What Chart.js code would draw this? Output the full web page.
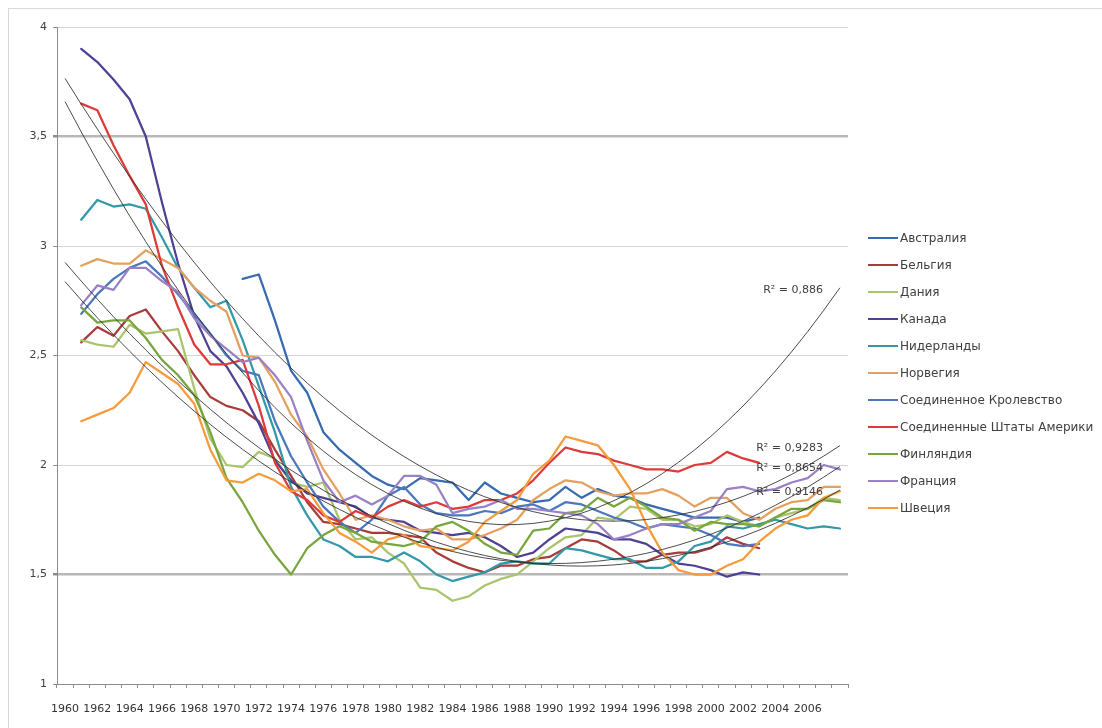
<!DOCTYPE html>
<html>
<head>
<meta charset="utf-8">
<script src="https://cdn.jsdelivr.net/npm/chart.js@4.4.0/dist/chart.umd.min.js"></script>
<style>
html, body { margin: 0; padding: 0; background: #fff; width: 1102px; height: 728px; overflow: hidden; }
#frame { position: absolute; left: 8px; top: 8px; width: 1200px; height: 800px; border: 1px solid #d9d9d9; }
#wrap { position: absolute; left: 0; top: 0; width: 1102px; height: 728px; }
#legend { position: absolute; left: 868px; top: 0; font: 12px "DejaVu Sans", sans-serif; color: #404040; }
.item { position: absolute; left: 0; height: 14px; line-height: 14px; white-space: nowrap; }
.swatch { position: absolute; left: 0; top: 6px; width: 30px; height: 2px; }
.label { position: absolute; left: 32px; top: 0; }
</style>
</head>
<body>
<div id="frame"></div>
<div id="wrap"><canvas id="chart" width="1102" height="728"></canvas></div>
<div id="legend"></div>
<script>
// Total fertility rate, 1960-2008 (first category is empty in the source sheet)
const years = ['1960','1961','1962','1963','1964','1965','1966','1967','1968','1969',
  '1970','1971','1972','1973','1974','1975','1976','1977','1978','1979',
  '1980','1981','1982','1983','1984','1985','1986','1987','1988','1989',
  '1990','1991','1992','1993','1994','1995','1996','1997','1998','1999',
  '2000','2001','2002','2003','2004','2005','2006','2007','2008'];

const australia = [null,null,null,null,null,null,null,null,null,null,null,
  2.85,2.87,2.66,2.43,2.33,2.15,2.07,2.01,1.95,1.91,
  1.89,1.94,1.93,1.92,1.84,1.92,1.87,1.85,1.83,1.84,
  1.90,1.85,1.89,1.86,1.85,1.82,1.80,1.78,1.76,1.76,
  1.76,1.74,1.76, null,null,null,null,null];
const belgium = [null, 2.56,2.63,2.59,2.68,2.71,2.61,2.52,2.41,2.31,2.27,
  2.25,2.20,2.07,1.95,1.83,1.74,1.73,1.71,1.69,1.69,
  1.68,1.67,1.60,1.56,1.53,1.51,1.54,1.54,1.57,1.58,
  1.62,1.66,1.65,1.61,1.56,1.56,1.59,1.60,1.60,1.62,
  1.67,1.64,1.62, null,null,null,null,null];
const denmark = [null, 2.57,2.55,2.54,2.64,2.60,2.61,2.62,2.35,2.12,2.00,
  1.99,2.06,2.03,1.92,1.90,1.92,1.75,1.66,1.67,1.60,
  1.55,1.44,1.43,1.38,1.40,1.45,1.48,1.50,1.56,1.62,
  1.67,1.68,1.76,1.75,1.81,1.80,1.75,1.75,1.72,1.73,
  1.77,1.74,1.72,1.76,1.78,1.80,1.85,1.84];
const canada = [null, 3.90,3.84,3.76,3.67,3.50,3.20,2.92,2.68,2.52,2.45,
  2.33,2.19,2.02,1.93,1.87,1.85,1.83,1.81,1.76,1.75,
  1.74,1.70,1.69,1.68,1.69,1.67,1.63,1.58,1.60,1.66,
  1.71,1.70,1.69,1.66,1.66,1.64,1.59,1.55,1.54,1.52,
  1.49,1.51,1.50, null,null,null,null,null];
const netherlands = [null, 3.12,3.21,3.18,3.19,3.17,3.04,2.90,2.81,2.72,2.75,
  2.57,2.36,2.15,1.90,1.77,1.66,1.63,1.58,1.58,1.56,
  1.60,1.56,1.50,1.47,1.49,1.51,1.55,1.56,1.55,1.55,
  1.62,1.61,1.59,1.57,1.57,1.53,1.53,1.56,1.63,1.65,
  1.72,1.71,1.73,1.75,1.73,1.71,1.72,1.71];
const norway = [null, 2.91,2.94,2.92,2.92,2.98,2.94,2.90,2.81,2.75,2.70,
  2.50,2.49,2.38,2.23,2.13,1.98,1.87,1.75,1.77,1.75,
  1.72,1.70,1.71,1.66,1.66,1.68,1.71,1.75,1.84,1.89,
  1.93,1.92,1.88,1.86,1.87,1.87,1.89,1.86,1.81,1.85,
  1.85,1.78,1.75,1.80,1.83,1.84,1.90,1.90];
const uk = [null, 2.69,2.78,2.85,2.90,2.93,2.86,2.78,2.69,2.60,2.50,
  2.43,2.41,2.20,2.04,1.92,1.81,1.74,1.69,1.75,1.86,
  1.90,1.82,1.78,1.77,1.77,1.79,1.78,1.81,1.82,1.79,
  1.83,1.82,1.79,1.76,1.74,1.71,1.73,1.72,1.71,1.68,
  1.64,1.63,1.64, null,null,null,null,null];
const usa = [null, 3.65,3.62,3.46,3.32,3.19,2.91,2.72,2.55,2.46,2.46,
  2.48,2.27,2.01,1.88,1.84,1.77,1.74,1.79,1.76,1.81,
  1.84,1.81,1.83,1.80,1.81,1.84,1.84,1.87,1.93,2.01,
  2.08,2.06,2.05,2.02,2.00,1.98,1.98,1.97,2.00,2.01,
  2.06,2.03,2.01, null,null,null,null,null];
const finland = [null, 2.72,2.65,2.66,2.66,2.58,2.48,2.41,2.32,2.15,1.94,
  1.83,1.70,1.59,1.50,1.62,1.68,1.72,1.69,1.65,1.64,
  1.63,1.65,1.72,1.74,1.70,1.64,1.60,1.59,1.70,1.71,
  1.78,1.79,1.85,1.81,1.85,1.81,1.76,1.75,1.70,1.74,
  1.73,1.73,1.72,1.76,1.80,1.80,1.84,1.83];
const france = [null, 2.73,2.82,2.80,2.90,2.90,2.84,2.79,2.67,2.59,2.53,
  2.47,2.49,2.41,2.31,2.11,1.93,1.83,1.86,1.82,1.86,
  1.95,1.95,1.91,1.78,1.80,1.81,1.84,1.80,1.80,1.79,
  1.78,1.77,1.73,1.66,1.68,1.71,1.73,1.73,1.76,1.79,
  1.89,1.90,1.88,1.89,1.92,1.94,2.00,1.98];
const sweden = [null, 2.20,2.23,2.26,2.33,2.47,2.42,2.37,2.28,2.07,1.93,
  1.92,1.96,1.93,1.88,1.89,1.78,1.69,1.65,1.60,1.66,
  1.68,1.63,1.62,1.61,1.65,1.74,1.79,1.84,1.96,2.02,
  2.13,2.11,2.09,2.00,1.89,1.73,1.60,1.52,1.50,1.50,
  1.54,1.57,1.65,1.71,1.75,1.77,1.85,1.88];

const names = ['Австралия','Бельгия','Дания','Канада','Нидерланды','Норвегия',
  'Соединенное Кролевство','Соединенные Штаты Америки','Финляндия','Франция','Швеция'];
const series = [australia, belgium, denmark, canada, netherlands, norway, uk, usa, finland, france, sweden];
const colors = ['#376ab0','#a83c3a','#a9c46c','#4e4193','#3399a8','#e4a05e',
  '#4a78bd','#dd3a3a','#78a53c','#9a80c4','#f59b3c'];

// polynomial (order 2) trendlines: which series, and the R² text printed on the chart
const trendOf = [7, 0, 2, 1];   // США, Австралия, Дания, Бельгия
const r2Text = ['R² = 0,886', 'R² = 0,9283', 'R² = 0,8654', 'R² = 0,9146'];

// least squares y = a + b*x + c*x^2 over non-empty points, x = category index
function quadFit(ys) {
  const S = [0, 0, 0, 0, 0], T = [0, 0, 0];
  ys.forEach((y, x) => {
    if (y === null) return;
    let p = 1;
    for (let k = 0; k < 5; k++) {
      S[k] += p;
      if (k < 3) T[k] += p * y;
      p *= x;
    }
  });
  const m = [[S[0], S[1], S[2], T[0]], [S[1], S[2], S[3], T[1]], [S[2], S[3], S[4], T[2]]];
  for (let i = 0; i < 3; i++) {
    for (let j = i + 1; j < 3; j++) {
      const f = m[j][i] / m[i][i];
      for (let k = i; k < 4; k++) m[j][k] -= f * m[i][k];
    }
  }
  const c = m[2][3] / m[2][2];
  const b = (m[1][3] - m[1][2] * c) / m[1][1];
  const a = (m[0][3] - m[0][1] * b - m[0][2] * c) / m[0][0];
  return years.map((_, x) => a + b * x + c * x * x);
}

const datasets = series.map((data, i) => ({
  label: names[i],
  data: data,
  borderColor: colors[i],
  borderWidth: 2.25,
  pointRadius: 0,
  tension: 0,
  borderJoinStyle: 'round',
  borderCapStyle: 'round',
  order: 20 - i
}));

trendOf.forEach((si, k) => {
  datasets.push({
    label: 'Полиномиальная (' + names[si] + ')',
    data: quadFit(series[si]),
    borderColor: 'rgba(45,45,45,0.85)',
    borderWidth: 1,
    pointRadius: 0,
    tension: 0,
    order: 0,
    r2: r2Text[k]
  });
});

const r2Plugin = {
  id: 'r2Labels',
  afterDatasetsDraw(chart) {
    const ctx = chart.ctx;
    ctx.save();
    ctx.font = '11px "DejaVu Sans", sans-serif';
    ctx.fillStyle = '#404040';
    ctx.textAlign = 'right';
    ctx.textBaseline = 'middle';
    chart.data.datasets.forEach((ds, i) => {
      if (!ds.r2) return;
      const pts = chart.getDatasetMeta(i).data;
      const last = pts[pts.length - 1];
      ctx.fillText(ds.r2, last.x - 17, last.y + 2);
    });
    ctx.restore();
  }
};

const gridStrong = v => v === 3.5 || v === 1.5;

new Chart(document.getElementById('chart'), {
  type: 'line',
  data: { labels: years, datasets: datasets },
  options: {
    responsive: false,
    animation: false,
    devicePixelRatio: 1,
    layout: { padding: { left: 0, right: 254, top: 27, bottom: 0 } },
    plugins: { legend: { display: false }, tooltip: { enabled: false } },
    scales: {
      x: {
        offset: true,
        grid: { offset: true, drawOnChartArea: false, tickLength: 4, color: '#8c8c8c' },
        border: { color: '#8c8c8c' },
        ticks: {
          autoSkip: false, maxRotation: 0, padding: 15,
          color: '#333', font: { family: 'DejaVu Sans', size: 11 },
          callback: (v, i) => (i % 2 === 0 && i < years.length - 1) ? years[i] : ''
        },
        afterFit: s => { s.height = 44; }
      },
      y: {
        min: 1, max: 4,
        ticks: {
          stepSize: 0.5, padding: 6, color: '#404040',
          font: { family: 'DejaVu Sans', size: 11 },
          callback: v => String(v).replace('.', ',')
        },
        grid: {
          tickLength: 4,
          tickColor: '#8c8c8c',
          color: c => c.tick && gridStrong(c.tick.value) ? '#b8b8b8' : '#d4d4d4',
          lineWidth: c => c.tick && gridStrong(c.tick.value) ? 2.5 : 1
        },
        border: { color: '#8c8c8c' },
        afterFit: s => { s.width = 57; }
      }
    }
  },
  plugins: [r2Plugin]
});

// legend (series only, trendlines are not listed)
const legendEl = document.getElementById('legend');
names.forEach((n, i) => {
  const item = document.createElement('div');
  item.className = 'item';
  item.style.top = (231 + 27 * i) + 'px';
  item.innerHTML = '<span class="swatch" style="background:' + colors[i] + '"></span><span class="label"></span>';
  item.querySelector('.label').textContent = n;
  legendEl.appendChild(item);
});
</script>
</body>
</html>
